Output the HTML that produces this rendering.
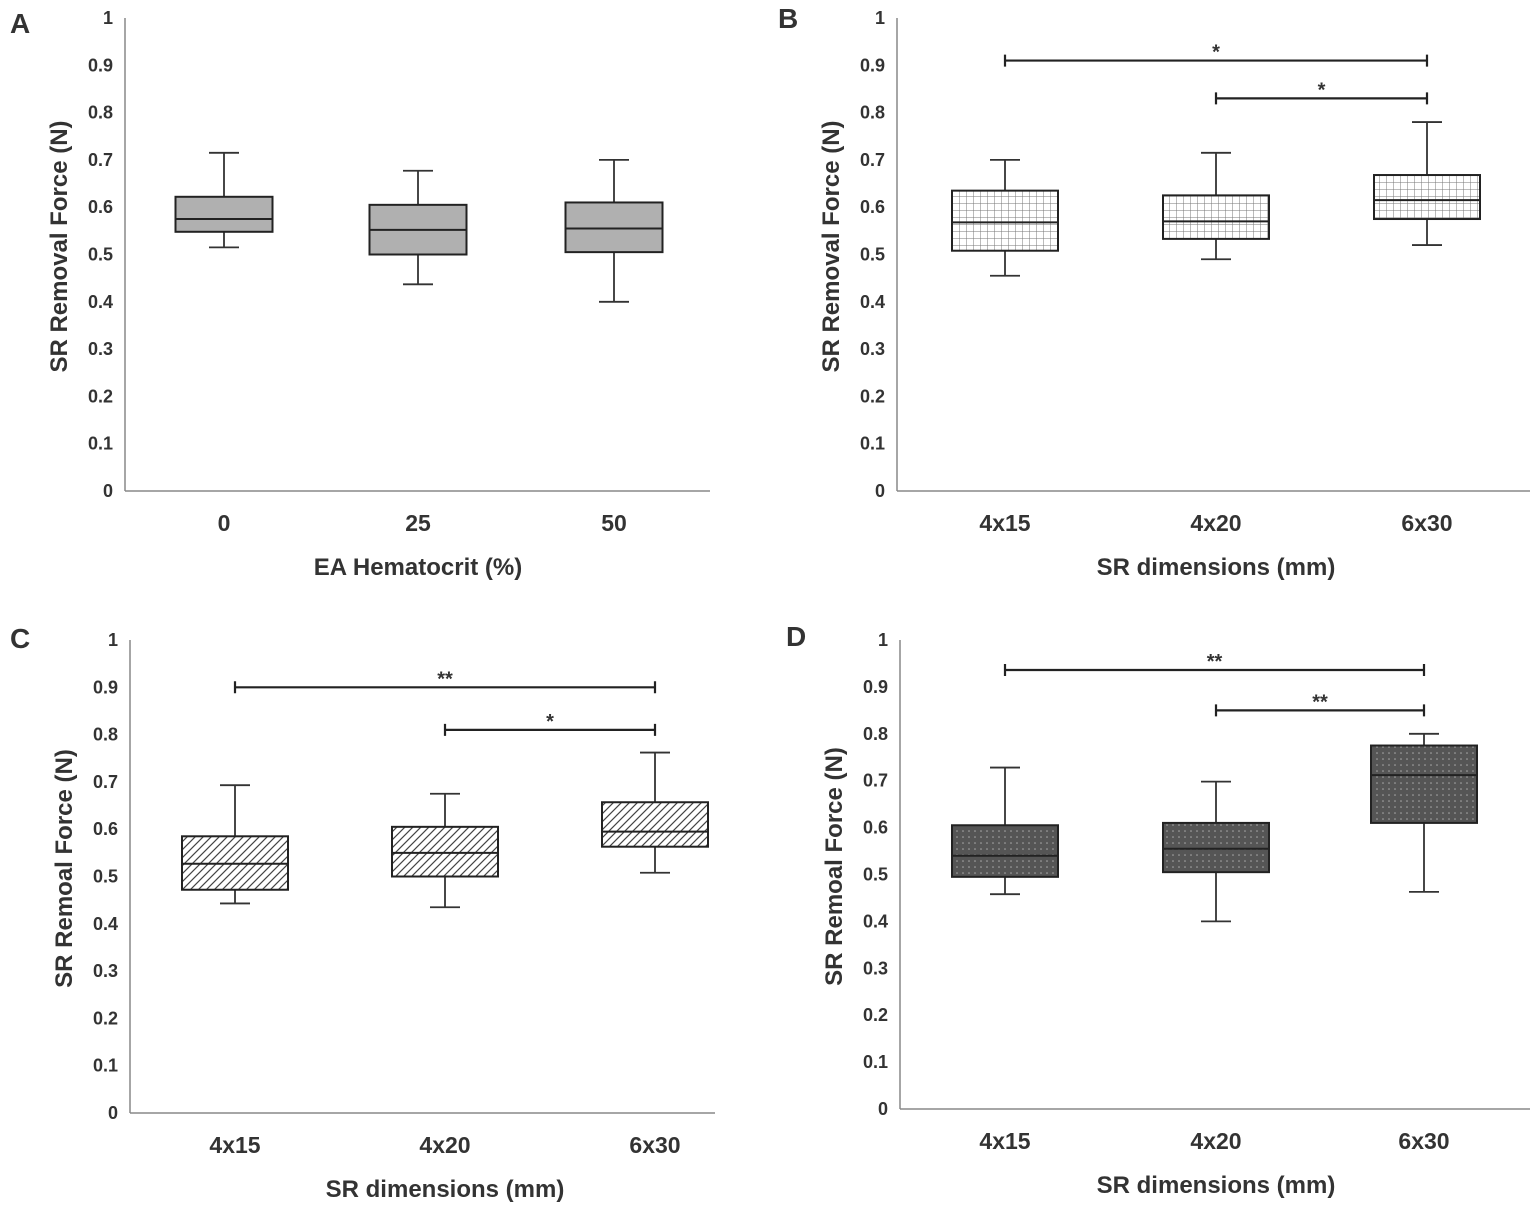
<!DOCTYPE html>
<html><head><meta charset="utf-8"><style>
body{margin:0;background:#fff}
svg text{font-family:"Liberation Sans",sans-serif;font-weight:bold;fill:#333}
</style></head><body>
<svg id="s" width="1535" height="1213" xmlns="http://www.w3.org/2000/svg">
<defs>
<pattern id="pgrid" width="7" height="7" patternUnits="userSpaceOnUse"><rect width="7" height="7" fill="#fff"/><path d="M0 0H7M0 0V7" stroke="#777" stroke-width="1"/></pattern>
<pattern id="pdiag" width="8" height="8" patternUnits="userSpaceOnUse"><rect width="8" height="8" fill="#fff"/><path d="M-2 2L2 -2M0 8L8 0M6 10L10 6" stroke="#444" stroke-width="1.2"/></pattern>
<pattern id="pdot" width="6" height="6" patternUnits="userSpaceOnUse"><rect width="6" height="6" fill="#555"/><circle cx="3" cy="3" r="0.8" fill="#aaa"/></pattern>
</defs>
</svg>
<script>
const catsA=["0","25","50"];
const catsB=["4x15","4x20","6x30"];
const yTicks=[0,0.1,0.2,0.3,0.4,0.5,0.6,0.7,0.8,0.9,1];
const yTickLabels=["0","0.1","0.2","0.3","0.4","0.5","0.6","0.7","0.8","0.9","1"];
// [whiskerLow, q1, median, q3, whiskerHigh]
const boxesA=[[0.515,0.548,0.575,0.622,0.715],[0.437,0.5,0.552,0.605,0.677],[0.4,0.505,0.555,0.61,0.7]];
const boxesB=[[0.455,0.508,0.568,0.635,0.7],[0.49,0.533,0.57,0.625,0.715],[0.52,0.575,0.615,0.668,0.78]];
const boxesC=[[0.443,0.472,0.527,0.585,0.693],[0.435,0.5,0.55,0.605,0.675],[0.508,0.563,0.595,0.657,0.762]];
const boxesD=[[0.458,0.495,0.54,0.605,0.728],[0.4,0.505,0.555,0.61,0.698],[0.463,0.61,0.712,0.775,0.8]];
// [fromIdx,toIdx,y,label]
const sigB=[[0,2,0.91,"*"],[1,2,0.83,"*"]];
const sigC=[[0,2,0.9,"**"],[1,2,0.81,"*"]];
const sigD=[[0,2,0.936,"**"],[1,2,0.85,"**"]];

const svg=document.getElementById('s');
const NS="http://www.w3.org/2000/svg";
function el(t,a,txt){const e=document.createElementNS(NS,t);for(const k in a)e.setAttribute(k,a[k]);if(txt!==undefined)e.textContent=txt;svg.appendChild(e);return e;}

function panel(p){
  const y=v=>p.y0-(p.y0-p.y1)*v;
  const x=i=>p.cx[i];
  const lab=el('text',{x:p.lx,y:p.ly,'font-size':28,fill:'#111'},p.letter);
  
  
  const ya=el('line',{x1:p.ax,y1:p.y1,x2:p.ax,y2:p.y0,stroke:'#888','stroke-width':1.5});
  
  
  const xa=el('line',{x1:p.ax,y1:p.y0,x2:p.axEnd,y2:p.y0,stroke:'#888','stroke-width':1.5});
  
  
  yTicks.forEach((t,i)=>{
    const tl=el('text',{x:p.ax-12,y:y(t)+6,'font-size':18,'text-anchor':'end'},yTickLabels[i]);
    
    
  });
  p.cats.forEach((c,i)=>{
    const t=el('text',{x:x(i),y:p.y0+40,'font-size':23,'text-anchor':'middle'},c);
    
    
  });
  const xt=el('text',{x:p.xtx,y:p.y0+84,'font-size':24,'text-anchor':'middle'},p.xtitle);
  
  
  const yt=el('text',{x:0,y:0,'font-size':24,'text-anchor':'middle',transform:`translate(${p.ax-58},${(p.y0+p.y1)/2-8}) rotate(-90)`},p.ytitle);
  
  
  const hw=p.bw/2;
  p.boxes.forEach((b,i)=>{
    const cx=x(i);
    const w=el('path',{d:`M${cx} ${y(b[0])}V${y(b[1])}M${cx} ${y(b[3])}V${y(b[4])}M${cx-15} ${y(b[0])}H${cx+15}M${cx-15} ${y(b[4])}H${cx+15}`,stroke:'#333','stroke-width':1.8,fill:'none'});
    
    
    const r=el('rect',{x:cx-hw,y:y(b[3]),width:p.bw,height:y(b[1])-y(b[3]),fill:p.fill,stroke:'#222','stroke-width':2});
    
    
    const m=el('line',{x1:cx-hw,x2:cx+hw,y1:y(b[2]),y2:y(b[2]),stroke:'#222','stroke-width':2});
    
    
  });
  (p.sig||[]).forEach(s=>{
    const x1=x(s[0]),x2=x(s[1]),yy=y(s[2]);
    const l=el('path',{d:`M${x1} ${yy}H${x2}M${x1} ${yy-6}V${yy+6}M${x2} ${yy-6}V${yy+6}`,stroke:'#222','stroke-width':2.2,fill:'none'});
    
    
    const t=el('text',{x:(x1+x2)/2,y:yy-2,'font-size':20,'text-anchor':'middle'},s[3]);
    
    
  });
}
panel({letter:'A',lx:10,ly:33,ax:125,axEnd:710,y0:491,y1:18,cx:[224,418,614],cats:catsA,boxes:boxesA,bw:97,fill:'#b0b0b0',xtitle:'EA Hematocrit (%)',xtx:418,ytitle:'SR Removal Force (N)'});
panel({letter:'B',lx:778,ly:28,ax:897,axEnd:1530,y0:491,y1:18,cx:[1005,1216,1427],cats:catsB,boxes:boxesB,bw:106,fill:'url(#pgrid)',xtitle:'SR dimensions (mm)',xtx:1216,ytitle:'SR Removal Force (N)',sig:sigB});
panel({letter:'C',lx:10,ly:648,ax:130,axEnd:715,y0:1113,y1:640,cx:[235,445,655],cats:catsB,boxes:boxesC,bw:106,fill:'url(#pdiag)',xtitle:'SR dimensions (mm)',xtx:445,ytitle:'SR Remoal Force (N)',sig:sigC});
panel({letter:'D',lx:786,ly:646,ax:900,axEnd:1530,y0:1109,y1:640,cx:[1005,1216,1424],cats:catsB,boxes:boxesD,bw:106,fill:'url(#pdot)',xtitle:'SR dimensions (mm)',xtx:1216,ytitle:'SR Remoal Force (N)',sig:sigD});
</script>
</body></html>
